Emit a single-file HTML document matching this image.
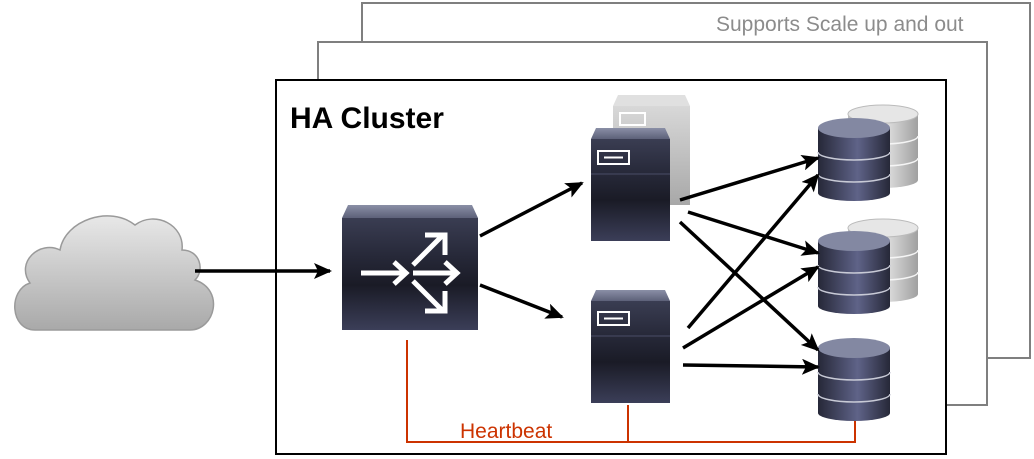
<!DOCTYPE html>
<html><head><meta charset="utf-8"><style>
html,body{margin:0;padding:0;background:#fff;}
svg{display:block;font-family:"Liberation Sans",Arial,sans-serif;}
</style></head><body>
<svg width="1034" height="459" viewBox="0 0 1034 459" xmlns="http://www.w3.org/2000/svg">
<defs>
<linearGradient id="dk" x1="0" y1="0" x2="0" y2="1">
<stop offset="0" stop-color="#3a3d52"/><stop offset="0.35" stop-color="#262838"/><stop offset="0.6" stop-color="#1a1b26"/><stop offset="1" stop-color="#3b3e58"/></linearGradient>
<linearGradient id="dkTop" x1="0" y1="0" x2="0" y2="1"><stop offset="0" stop-color="#8a8fa6"/><stop offset="1" stop-color="#5d6179"/></linearGradient>
<linearGradient id="gr" x1="0" y1="0" x2="0" y2="1"><stop offset="0" stop-color="#d8d8d8"/><stop offset="1" stop-color="#a8a8a8"/></linearGradient>
<linearGradient id="cyl" x1="0" y1="0" x2="1" y2="0"><stop offset="0" stop-color="#262838"/><stop offset="0.55" stop-color="#5f6388"/><stop offset="1" stop-color="#262838"/></linearGradient>
<linearGradient id="cylg" x1="0" y1="0" x2="1" y2="0"><stop offset="0" stop-color="#bdbdbd"/><stop offset="0.5" stop-color="#e6e6e6"/><stop offset="1" stop-color="#a0a0a0"/></linearGradient>
<linearGradient id="cloud" x1="0" y1="0" x2="0" y2="1"><stop offset="0" stop-color="#e8e8e8"/><stop offset="1" stop-color="#a9a9a9"/></linearGradient>
<marker id="ah2" markerWidth="18" markerHeight="16" refX="16" refY="8" orient="auto" markerUnits="userSpaceOnUse" viewBox="0 0 18 16"><path d="M0,0 L18,8 L0,16 L4,8 Z" fill="#000"/></marker>
</defs>
<rect x="362" y="3" width="668" height="355" fill="#fff" stroke="#7f7f7f" stroke-width="2"/>
<rect x="318" y="42" width="669" height="363" fill="#fff" stroke="#7f7f7f" stroke-width="2"/>
<rect x="276" y="80" width="670" height="374" fill="#fff" stroke="#000" stroke-width="2"/>
<text x="716" y="31" font-size="21" fill="#8c8c8c">Supports Scale up and out</text>
<text x="290" y="128" font-size="30" font-weight="bold" fill="#000">HA Cluster</text>
<path d="M35,330 C10,330 8,290 30,283 C15,262 40,240 60,250 C65,220 110,205 135,225 C155,210 185,225 182,250 C200,250 205,270 195,280 C225,290 215,330 190,330 Z" fill="url(#cloud)" stroke="#9a9a9a" stroke-width="1.5"/>
<g stroke="#cc3300" stroke-width="2" fill="none">
<path d="M407,340 V442 H855 V418"/><path d="M628,405 V442"/></g>
<text x="460" y="438" font-size="21" fill="#cc3300">Heartbeat</text>
<polygon points="342,218 348,205 472,205 478,218" fill="url(#dkTop)"/>
<rect x="342" y="218" width="136" height="112" fill="url(#dk)"/>
<g stroke="#fff" stroke-width="5" fill="none">
<path d="M361,273 H404"/><path d="M394,262 L406,273 L394,284"/>
<path d="M413,273 H455"/><path d="M445,262 L457,273 L445,284"/>
<path d="M413,265 L443,235"/><path d="M425,235 H445 V255"/>
<path d="M413,281 L443,311"/><path d="M425,311 H445 V291"/>
</g>
<polygon points="613,106 618,95 685,95 690,106" fill="#e0e0e0"/>
<rect x="613" y="106" width="77" height="99" fill="url(#gr)"/>
<rect x="620" y="113" width="25" height="12" fill="none" stroke="#fff" stroke-width="2"/>
<polygon points="591,139 596,128 665,128 670,139" fill="url(#dkTop)"/>
<rect x="591" y="139" width="79" height="102" fill="url(#dk)"/>
<line x1="591" y1="174" x2="670" y2="174" stroke="#4a4d66" stroke-width="1"/>
<rect x="598" y="151" width="31" height="13" fill="none" stroke="#fff" stroke-width="2"/><line x1="604" y1="157.5" x2="623" y2="157.5" stroke="#fff" stroke-width="2"/>
<polygon points="591,301 596,290 665,290 670,301" fill="url(#dkTop)"/>
<rect x="591" y="301" width="79" height="102" fill="url(#dk)"/>
<line x1="591" y1="336" x2="670" y2="336" stroke="#4a4d66" stroke-width="1"/>
<rect x="598" y="312" width="31" height="13" fill="none" stroke="#fff" stroke-width="2"/><line x1="604" y1="318.5" x2="623" y2="318.5" stroke="#fff" stroke-width="2"/>
<g id="gdb">
<path d="M848,114 V180 A35,8 0 0 0 918,180 V114 Z" fill="url(#cylg)"/>
<ellipse cx="883" cy="114" rx="35" ry="9" fill="#e6e6e6" stroke="#bbb"/>
<path d="M848,136 A35,8 0 0 0 918,136 M848,158 A35,8 0 0 0 918,158" stroke="#f5f5f5" stroke-width="1.5" fill="none"/>
</g>
<use href="#gdb" y="114"/>
<g id="ddb">
<path d="M818,128 V193 A36,8 0 0 0 890,193 V128 Z" fill="url(#cyl)"/>
<ellipse cx="854" cy="128" rx="36" ry="10" fill="#8388a2"/>
<path d="M818,152 A36,8 0 0 0 890,152 M818,174 A36,8 0 0 0 890,174" stroke="#c8cad6" stroke-width="1.5" fill="none"/>
</g>
<use href="#ddb" y="113"/>
<use href="#ddb" y="220"/>
<g stroke="#000" stroke-width="3.5" fill="none">
<line x1="195" y1="271" x2="330" y2="271" marker-end="url(#ah2)"/>
<line x1="480" y1="236" x2="582" y2="183" marker-end="url(#ah2)"/>
<line x1="480" y1="285" x2="562" y2="317" marker-end="url(#ah2)"/>
<line x1="680" y1="200" x2="818" y2="158" marker-end="url(#ah2)"/>
<line x1="688" y1="212" x2="818" y2="253" marker-end="url(#ah2)"/>
<line x1="680" y1="222" x2="818" y2="350" marker-end="url(#ah2)"/>
<line x1="688" y1="328" x2="818" y2="175" marker-end="url(#ah2)"/>
<line x1="683" y1="348" x2="818" y2="267" marker-end="url(#ah2)"/>
<line x1="683" y1="365" x2="818" y2="367" marker-end="url(#ah2)"/>
</g>
</svg>
</body></html>
